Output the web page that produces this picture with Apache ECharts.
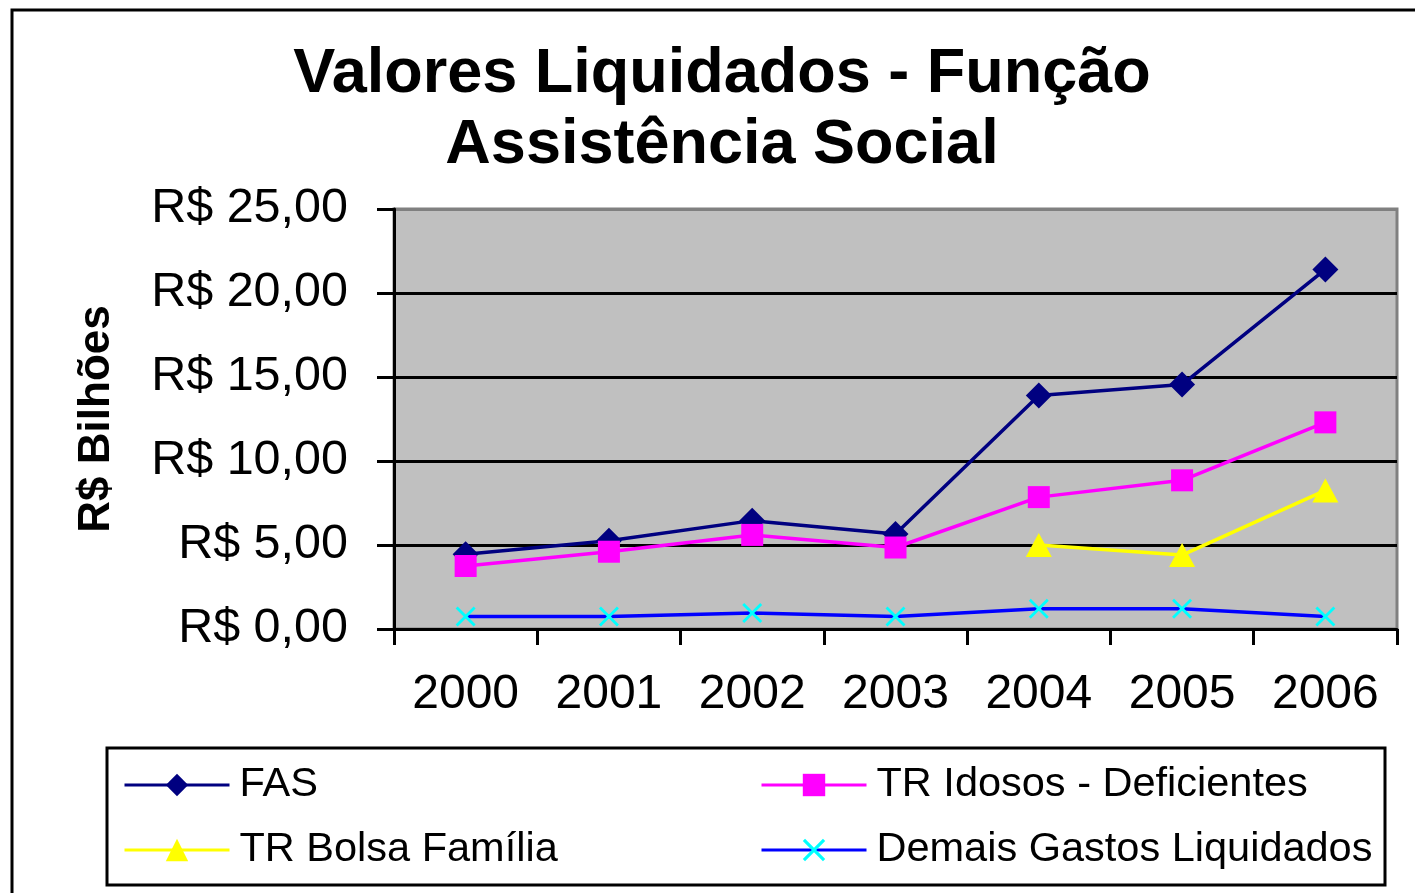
<!DOCTYPE html>
<html>
<head>
<meta charset="utf-8">
<script src="https://cdn.jsdelivr.net/npm/echarts@6/dist/echarts.min.js"></script>
<style>
html,body{margin:0;padding:0;background:#fff;}
#chart{width:1415px;height:893px;}
</style>
</head>
<body>
<div id="chart"></div>
<script>
const categories = ['2000', '2001', '2002', '2003', '2004', '2005', '2006'];
const fas = [4.45, 5.25, 6.45, 5.65, 13.9, 14.55, 21.4];
const idosos = [3.75, 4.6, 5.6, 4.85, 7.85, 8.85, 12.3];
const bolsa = [null, null, null, null, 5.0, 4.4, 8.25];
const demais = [0.75, 0.75, 0.95, 0.75, 1.2, 1.2, 0.75];
const seriesNames = ['FAS', 'TR Idosos - Deficientes', 'TR Bolsa Família', 'Demais Gastos Liquidados'];
const titleLines = ['Valores Liquidados - Função', 'Assistência Social'];
const yAxisTitle = 'R$ Bilhões';

const FONT = '"Liberation Sans", Arial, sans-serif';
const xPath = 'path://M0,2 L2,0 L10,8 L18,0 L20,2 L12,10 L20,18 L18,20 L10,12 L2,20 L0,18 L8,10 Z';

const chart = echarts.init(document.getElementById('chart'), null, {renderer: 'canvas'});

function legendAt(name, left, top) {
  return {
    data: [name], left: left, top: top, padding: 5,
    itemWidth: 105, itemHeight: 28,
    lineStyle: {width: 3},
    textStyle: {fontFamily: FONT, fontSize: 41.5, color: '#000', padding: [0, 0, 0, 5]},
    selectedMode: false
  };
}

const option = {
  animation: false,
  backgroundColor: '#fff',
  title: {
    text: titleLines.join('\n'),
    left: 722, textAlign: 'center', top: 39, padding: 0,
    textStyle: {fontFamily: FONT, fontSize: 63, fontWeight: 'bold', lineHeight: 71, color: '#000'}
  },
  graphic: [
    {type: 'rect', z: -10, shape: {x: 12, y: 10, width: 1415, height: 895}, style: {fill: 'none', stroke: '#000', lineWidth: 3}},
    {type: 'rect', z: 0, shape: {x: 107, y: 748, width: 1278, height: 137}, style: {fill: '#fff', stroke: '#000', lineWidth: 3}}
  ],
  legend: [
    legendAt(seriesNames[0], 118, 759),
    legendAt(seriesNames[1], 755, 759),
    legendAt(seriesNames[2], 118, 824),
    legendAt(seriesNames[3], 755, 824)
  ],
  grid: {
    left: 394, right: 18, top: 209, bottom: 264,
    show: true, backgroundColor: '#C0C0C0', borderColor: '#808080', borderWidth: 3
  },
  xAxis: {
    type: 'category', data: categories, boundaryGap: true,
    axisLine: {lineStyle: {color: '#000', width: 3}},
    axisTick: {show: true, alignWithLabel: false, length: 16, lineStyle: {color: '#000', width: 3}},
    axisLabel: {fontFamily: FONT, fontSize: 48, color: '#000', margin: 42},
    splitLine: {show: false}
  },
  yAxis: {
    type: 'value', min: 0, max: 25, interval: 5,
    name: yAxisTitle, nameLocation: 'middle', nameGap: 275, nameRotate: 90,
    nameTextStyle: {fontFamily: FONT, fontSize: 44, fontWeight: 'bold', color: '#000'},
    axisLine: {show: true, lineStyle: {color: '#000', width: 3}},
    axisTick: {show: true, length: 17, lineStyle: {color: '#000', width: 3}},
    axisLabel: {fontFamily: FONT, fontSize: 48.5, color: '#000', margin: 46,
      formatter: v => 'R$ ' + v.toFixed(2).replace('.', ',')},
    splitLine: {show: true, lineStyle: {color: ['#000', '#000', '#000', '#000', '#000', '#808080'], width: 3}}
  },
  series: [
    {name: seriesNames[0], type: 'line', data: fas, symbol: 'diamond', symbolSize: 26,
      lineStyle: {color: '#000080', width: 3.5}, itemStyle: {color: '#000080'}},
    {name: seriesNames[1], type: 'line', data: idosos, symbol: 'rect', symbolSize: 22,
      lineStyle: {color: '#FF00FF', width: 3.5}, itemStyle: {color: '#FF00FF'}},
    {name: seriesNames[2], type: 'line', data: bolsa, symbol: 'triangle', symbolSize: [26, 24],
      lineStyle: {color: '#FFFF00', width: 3.5}, itemStyle: {color: '#FFFF00'}},
    {name: seriesNames[3], type: 'line', data: demais, symbol: xPath, symbolSize: 20,
      lineStyle: {color: '#0000FF', width: 3.5}, itemStyle: {color: '#00FFFF'}}
  ]
};
chart.setOption(option);
</script>
</body>
</html>
